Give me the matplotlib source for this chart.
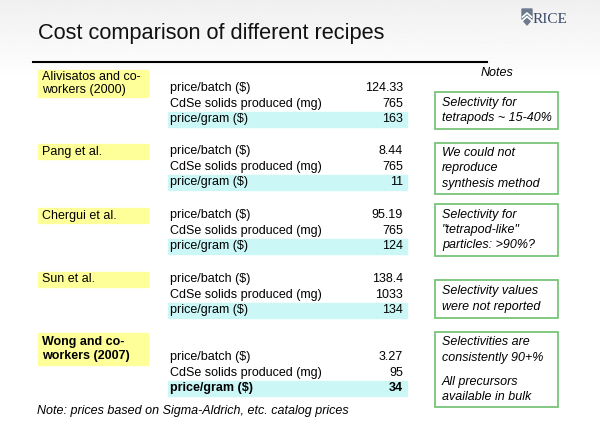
import matplotlib
matplotlib.use('Agg')
import matplotlib.pyplot as plt
import matplotlib.patches as patches
import numpy as np

plt.rcParams['font.family'] = ['Liberation Sans', 'DejaVu Sans']

# data
recipes = ['Alivisatos and co-\nworkers (2000)', 'Pang et al.', 'Chergui et al.',
           'Sun et al.', 'Wong and co-\nworkers (2007)']
price_batch = [124.33, 8.44, 95.19, 138.4, 3.27]
solids_mg = [765, 765, 765, 1033, 95]
price_gram = [163, 11, 124, 134, 34]
row_labels = ['price/batch ($)', 'CdSe solids produced (mg)', 'price/gram ($)']
notes = [
    ['Selectivity for\ntetrapods ~ 15-40%'],
    ['We could not\nreproduce\nsynthesis method'],
    ['Selectivity for\n"tetrapod-like"\nparticles: >90%?'],
    ['Selectivity values\nwere not reported'],
    ['Selectivities are\nconsistently 90+%', 'All precursors\navailable in bulk'],
]

# layout (pixel coordinates, y downward)
W, H = 600, 437
group_y = [88, 151, 215, 279, 357]
row_step = 15.6
name_box = [(70, 97), (144, 159), (208, 223), (272, 287), (333, 365)]
note_box = [(92, 129), (143, 194), (204, 256), (280, 318), (332, 407)]
line_step = 15.2
para_gap = 24
fs = 9

fig = plt.figure(figsize=(6, 4.37), dpi=100)
ax = fig.add_axes([0, 0, 1, 1])
ax.set_xlim(0, W)
ax.set_ylim(H, 0)
ax.axis('off')

# faint grey shading at the top of the slide
grad = np.linspace(0.94, 1.0, 100).reshape(-1, 1)
ax.imshow(grad, extent=(0, W, 80, 0), cmap='gray', vmin=0, vmax=1,
          aspect='auto', zorder=0)

# title and rule
ax.text(38, 39, 'Cost comparison of different recipes', fontsize=15.7,
        va='baseline', ha='left', color='#111111')
ax.plot([33, 487], [62, 62], color='black', lw=1.5)

# logo
shield = patches.Polygon([(522, 9), (532, 9), (532, 19), (527, 25), (522, 19)],
                         closed=True, color='#6d7a8c', zorder=2)
ax.add_patch(shield)
ax.plot([522.5, 527, 531.5], [17, 13, 17], color='white', lw=1.2, zorder=3)
ax.plot([522.5, 527, 531.5], [20.5, 16.5, 20.5], color='white', lw=1.2, zorder=3)
ax.text(533, 23, 'RICE', family='Liberation Serif', fontsize=11,
        color='#3b4a6b', va='baseline', ha='left')

for i, name in enumerate(recipes):
    y0 = group_y[i]
    last = i == len(recipes) - 1
    weight = 'bold' if last else 'normal'
    # recipe name on yellow
    top, bot = name_box[i]
    ax.add_patch(patches.Rectangle((38, top), 110, bot - top,
                                   color='#ffff99', zorder=1))
    ax.text(42, (top + bot) / 2, name, fontsize=fs, va='center', ha='left',
            fontweight=weight, linespacing=1.15, zorder=2)
    # price/gram band
    yb = y0 + 2 * row_step
    ax.add_patch(patches.Rectangle((168, yb - 7.5), 239, 15,
                                   color='#ccf7f7', zorder=1))
    vals = [price_batch[i], solids_mg[i], price_gram[i]]
    for r, (lab, v) in enumerate(zip(row_labels, vals)):
        yy = y0 + r * row_step
        w = 'bold' if (last and r == 2) else 'normal'
        ax.text(170, yy, lab, fontsize=fs, va='center', ha='left',
                fontweight=w, zorder=2)
        ax.text(403, yy, str(v), fontsize=fs, va='center', ha='right',
                fontweight=w, zorder=2)

# notes column
ax.text(497, 73, 'Notes', fontsize=fs, style='italic', va='center', ha='center')
for i, paras in enumerate(notes):
    top, bot = note_box[i]
    ax.add_patch(patches.Rectangle((435, top), 123, bot - top, fill=False,
                                   edgecolor='#77c477', lw=1.3, zorder=2))
    lines = []
    y = 0.0
    for p, para in enumerate(paras):
        if p > 0:
            y += para_gap - line_step
        for ln in para.split('\n'):
            lines.append((ln, y))
            y += line_step
    span = lines[-1][1]
    y_start = (top + bot) / 2 - span / 2
    for ln, dy in lines:
        ax.text(442, y_start + dy, ln, fontsize=fs, style='italic',
                va='center', ha='left', zorder=3)

ax.text(37, 411, 'Note: prices based on Sigma-Aldrich, etc. catalog prices',
        fontsize=fs, style='italic', va='center', ha='left')

plt.savefig('out.png', dpi=100)
